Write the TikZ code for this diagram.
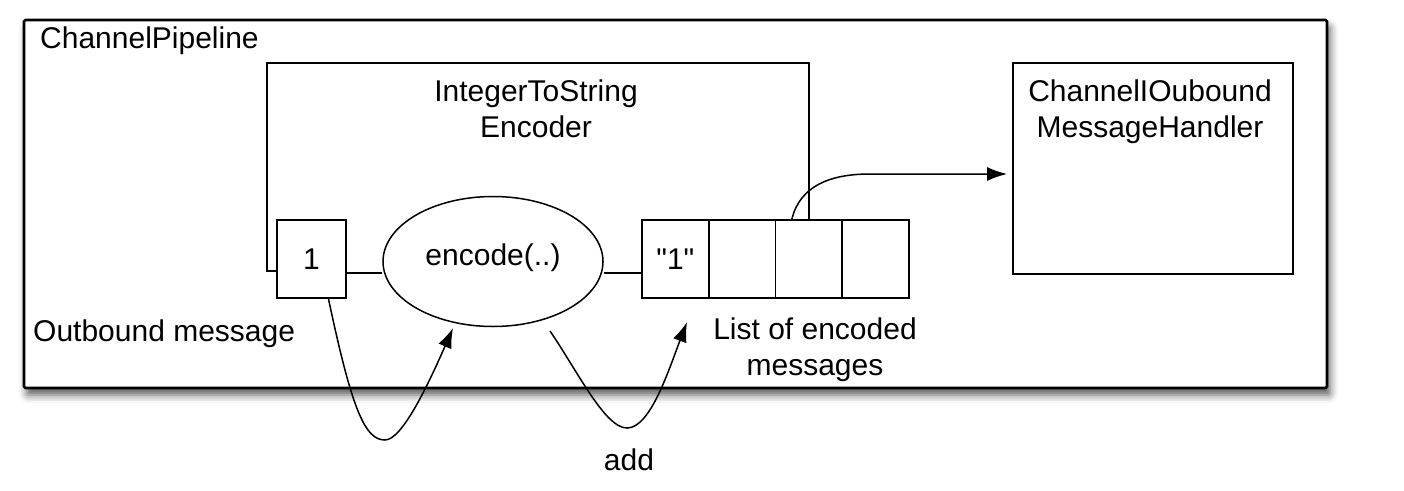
\documentclass[tikz,border=0pt]{standalone}
\usepackage{fontspec}
\setmainfont{Liberation Sans}
\newfontfamily\rawfont{Liberation Sans}[Ligatures=TeXOff]
\usetikzlibrary{arrows.meta,shapes.geometric,shadows.blur,calc}
\begin{document}
\begin{tikzpicture}[x=1pt,y=-1pt,
  every node/.style={font=\fontsize{30}{36}\selectfont, inner sep=0pt, text=black},
  outerbox/.style={draw, line width=2.6pt, fill=white, rounded corners=1.5pt,
    blur shadow={shadow xshift=3pt, shadow yshift=-7pt, shadow blur radius=8pt, shadow opacity=65}},
  box/.style={draw, line width=1.9pt, fill=white},
  ln/.style={line width=1.9pt},
  arr/.style={line width=1.5pt, -{Latex[length=20pt,width=14pt]}},
  curve/.style={line width=1.5pt}
]
\useasboundingbox (0,0) rectangle (1404,490);
% outer pipeline frame
\node[outerbox, minimum width=1303pt, minimum height=368pt] (pipe) at (675.5,204) {};
\node[anchor=base west] (pipelbl) at (40,48) {ChannelPipeline};
% encoder title
\node[anchor=north, align=center] (enctitle) at (536,80) {IntegerToString\\Encoder};
% handler
\node[box, minimum width=280pt, minimum height=211pt] (hdl) at (1153,168.5) {};
\node[anchor=north, align=center] (hdltitle) at (1150,80) {ChannelIOubound\\MessageHandler};
% input box
\node[box, minimum width=69pt, minimum height=78pt] (one) at (311.5,259) {1};
% encode ellipse
\node[box, ellipse, minimum width=220pt, minimum height=130pt, line width=1.5pt] (enc) at (493,261.5) {};
\node (enctext) at (493,258) {encode(..)};
% list cells
\node[box, minimum width=66.75pt, minimum height=78pt] (c1) at (675.4,259) {{\rawfont "1"}};
\node[box, minimum width=66.75pt, minimum height=78pt] (c2) at (742.1,259) {};
\node[box, minimum width=66.75pt, minimum height=78pt] (c3) at (808.9,259) {};
\node[box, minimum width=66.75pt, minimum height=78pt] (c4) at (875.6,259) {};
% labels
\node[anchor=base west] (outlbl) at (33,341) {Outbound message};
\node[anchor=north, align=center] (listlbl) at (815,318) {List of encoded\\messages};
\node[anchor=base] (addlbl) at (629,470) {add};
% encoder open frame
\coordinate (encTL) at (267,63);
\draw[ln] ([yshift=-12pt]one.west) -| (encTL) -| (c3.north);
% connecting lines
\draw[ln] ([yshift=-14pt]one.east) -- ([yshift=-14pt]one.east -| enc.west);
\draw[ln] ([yshift=-14pt]c1.west) -- ([yshift=-14pt]c1.west -| enc.east);
% arrows
\coordinate (s1) at ([xshift=17pt]one.south);
\coordinate (b1) at (385,440);
\coordinate (t1) at (453,328);
\draw[arr] (s1) .. controls (352,410) and (365,440) .. (b1) .. controls (402,440) and (428,385) .. (t1);
\coordinate (s2) at (550,331);
\coordinate (b2) at (627,428);
\coordinate (t2) at (687,322);
\draw[arr] (s2) .. controls (578,372) and (605,428) .. (b2) .. controls (650,428) and (668,372) .. (t2);
\coordinate (s3) at ([xshift=-17pt]c3.north);
\coordinate (m3) at (870,174);
\draw[arr] (s3) .. controls (800,186) and (830,174) .. (m3) -- ([xshift=-5pt,yshift=-5.5pt]hdl.west);
\end{tikzpicture}
\end{document}
